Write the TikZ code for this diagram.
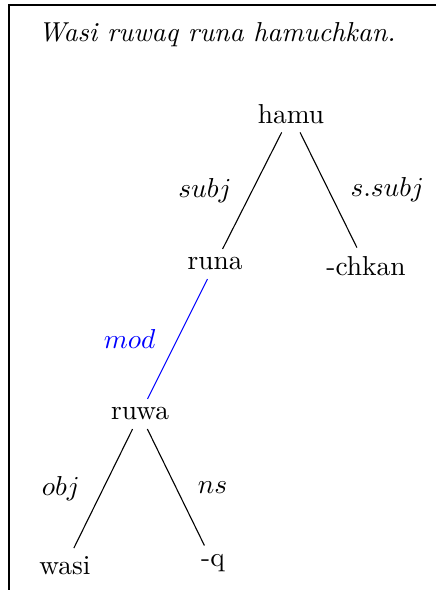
\documentclass[tikz,border=0pt]{standalone}
\begin{document}
\begin{tikzpicture}[x=0.365pt,y=-0.365pt,
  word/.style={inner sep=3pt,font=\normalsize},
  rel/.style={font=\normalsize},
  arc/.style={draw=black,line width=0.4pt},
  modarc/.style={draw=blue,line width=0.4pt}]
\useasboundingbox (0,0) rectangle (436,590);
\draw[line width=0.4pt] (436,5) -- (9,5) -- (9,590);
\node[inner sep=0pt] (title) at (217,35) {\textit{Wasi ruwaq runa hamuchkan.}};
\node[word] (hamu) at (291,114) {hamu};
\node[word] (runa) at (215,264) {runa};
\node[word] (chkan) at (366,266) {-chkan};
\node[word] (ruwa) at (140,414) {ruwa};
\node[word] (wasi) at (65,566) {wasi};
\node[word] (q) at (213,563) {-q};
\draw[arc] (hamu) -- (runa) node[pos=0.5,left=4pt,rel] {$subj$};
\draw[arc] (hamu) -- (chkan) node[pos=0.5,right=4.5pt,rel] {$s.subj$};
\draw[modarc] (runa) -- (ruwa) node[pos=0.5,left=4.5pt,rel,text=blue] {$mod$};
\draw[arc] (ruwa) -- (wasi) node[pos=0.5,left=5pt,rel] {$obj$};
\draw[arc] (ruwa) -- (q) node[pos=0.5,right=4.5pt,rel] {$ns$};
\end{tikzpicture}
\end{document}
